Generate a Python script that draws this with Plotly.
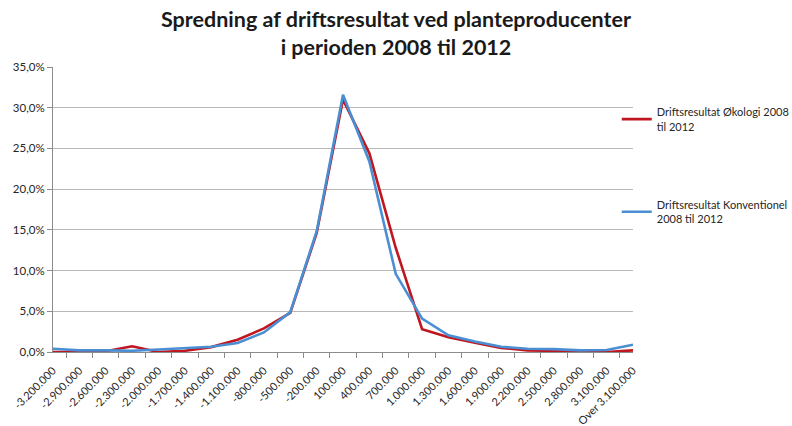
import plotly.graph_objects as go

categories = ["-3.200.000", "-2.900.000", "-2.600.000", "-2.300.000", "-2.000.000",
              "-1.700.000", "-1.400.000", "-1.100.000", "-800.000", "-500.000",
              "-200.000", "100.000", "400.000", "700.000", "1.000.000", "1.300.000",
              "1.600.000", "1.900.000", "2.200.000", "2.500.000", "2.800.000",
              "3.100.000", "Over 3.100.000"]

okologi = [0.0, 0.0, 0.1, 0.7, 0.0, 0.15, 0.6, 1.5, 2.9, 4.8, 14.6, 31.0, 24.4,
           12.8, 2.8, 1.8, 1.15, 0.5, 0.2, 0.15, 0.1, 0.0, 0.2]
konventionel = [0.4, 0.2, 0.2, 0.15, 0.3, 0.5, 0.65, 1.1, 2.4, 4.9, 14.8, 31.6, 23.4,
                9.6, 4.1, 2.05, 1.3, 0.65, 0.4, 0.35, 0.2, 0.25, 0.9]

name_oko = "Driftsresultat Økologi 2008<br>til 2012"
name_konv = "Driftsresultat Konventionel<br>2008 til 2012"

font_family = "Lato, 'Open Sans', sans-serif"

fig = go.Figure()
fig.add_trace(go.Scatter(x=categories, y=okologi, mode="lines", name=name_oko,
                         legendgroup="a", line=dict(color="#c0161f", width=2.6)))
fig.add_trace(go.Scatter(x=categories, y=konventionel, mode="lines", name=name_konv,
                         legendgroup="b", line=dict(color="#4a8fd4", width=2.6)))

fig.update_layout(
    width=792, height=426,
    margin=dict(l=53, r=159, t=67, b=74, autoexpand=False),
    paper_bgcolor="white", plot_bgcolor="white",
    separators=",.",
    font=dict(family=font_family, size=11, color="#262626"),
    title=dict(text="<b>Spredning af driftsresultat ved planteproducenter<br>i perioden 2008 til 2012</b>",
               x=0.5, xanchor="center", y=0.937, yanchor="middle",
               font=dict(size=21.5, color="#1a1a1a", family=font_family)),
    legend=dict(x=0.972, xanchor="left", y=0.89, yanchor="top",
                traceorder="grouped", tracegroupgap=61,
                font=dict(size=11, color="#262626"), itemwidth=30,
                bgcolor="rgba(0,0,0,0)"),
    showlegend=True,
)
fig.update_xaxes(type="category", tickangle=-45, showgrid=False, automargin=False,
                 showline=True, linecolor="#8c8c8c", linewidth=1,
                 ticks="outside", tickson="boundaries", ticklen=5, tickcolor="#8c8c8c",
                 ticklabelstandoff=7, tickfont=dict(size=11))
fig.update_yaxes(range=[0, 35], dtick=5, tickformat=".1f", ticksuffix="%", automargin=False,
                 showgrid=True, gridcolor="#b8b8b8", gridwidth=1,
                 showline=True, linecolor="#8c8c8c", linewidth=1,
                 ticks="outside", ticklen=5, tickcolor="#8c8c8c", zeroline=False,
                 tickfont=dict(size=11.5))

fig.write_html("out.html", config={"displayModeBar": False},
               post_script="document.body.style.margin='0';document.body.style.padding='0';")
